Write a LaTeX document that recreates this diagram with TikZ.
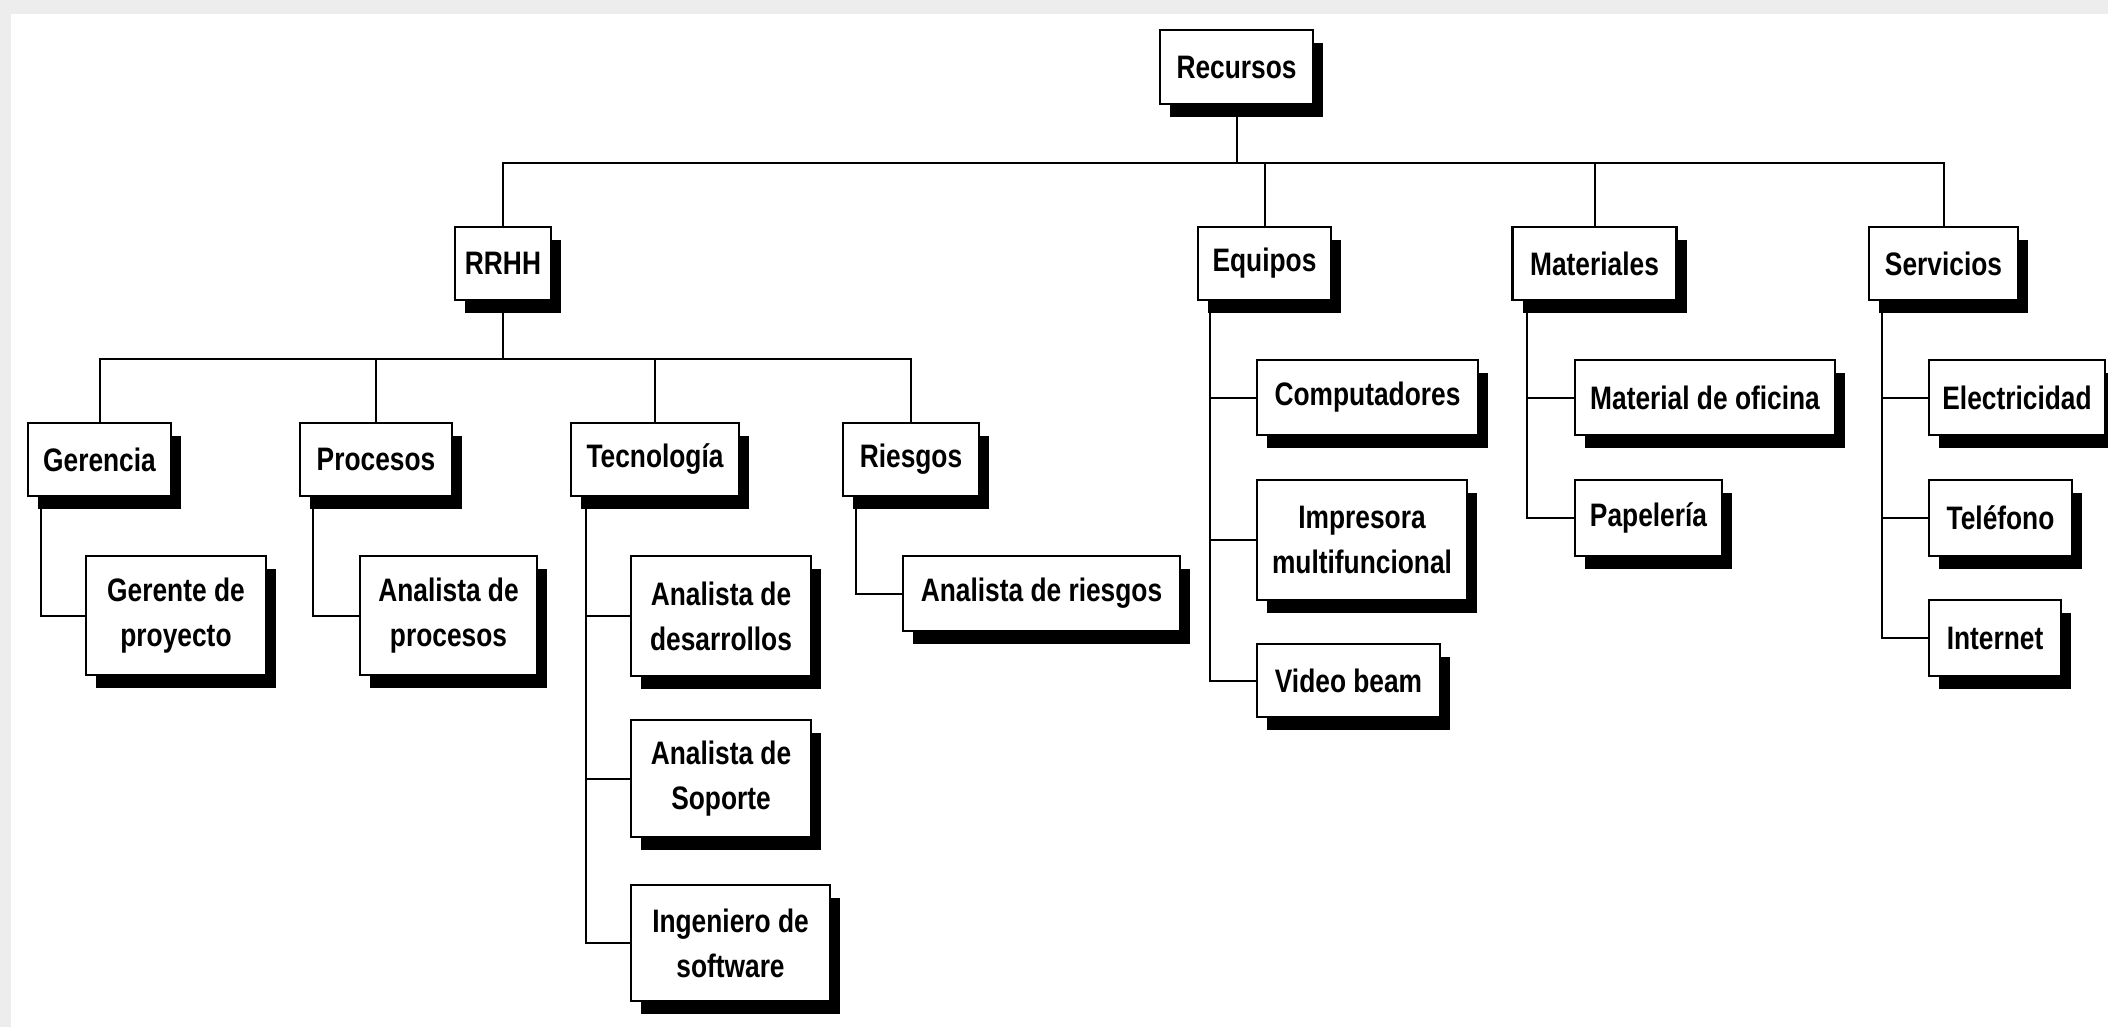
\documentclass[tikz,border=0pt]{standalone}
\usepackage{fontspec}
\setmainfont{Liberation Sans}[FakeStretch=0.81]
\usetikzlibrary{shadows,backgrounds}
\begin{document}
\begin{tikzpicture}[x=1pt,y=-1pt,
  box/.style={draw=black, line width=2.2pt, fill=white, inner sep=0pt, align=center,
    font=\fontsize{32.5}{45}\selectfont\bfseries,
    drop shadow={shadow xshift=10pt, shadow yshift=-13pt, opacity=1, fill=black}},
  link/.style={line width=2pt, black}]
\useasboundingbox (0,0) rectangle (2108,1027);
% page frame
\begin{scope}[on background layer]
  \fill[black!7] (0,0) rectangle (2108,1027);
  \fill[white] (11,14) rectangle (2108,1027);
\end{scope}

% root and first level
\node[box, minimum width=153pt, minimum height=74pt] (rec) at (1236.5,67) {Recursos};
\node[box, minimum width=96pt,  minimum height=73pt] (rrhh) at (503,263.5) {RRHH};
\node[box, minimum width=133pt, minimum height=73pt] (equ) at (1264.5,263.5) {Equipos};
\node[box, minimum width=164pt, minimum height=73pt] (mat) at (1594.5,263.5) {Materiales};
\node[box, minimum width=149pt, minimum height=73pt] (serv) at (1943.5,263.5) {Servicios};

% human resources areas
\node[box, minimum width=143pt, minimum height=73pt] (ger) at (99.5,459.5) {Gerencia};
\node[box, minimum width=152pt, minimum height=73pt] (proc) at (376,459.5) {Procesos};
\node[box, minimum width=168pt, minimum height=73pt] (tec) at (655,459.5) {Tecnología};
\node[box, minimum width=136pt, minimum height=73pt] (ries) at (911,459.5) {Riesgos};

% roles
\node[box, minimum width=180pt, minimum height=119pt] (gerp) at (176,615.5) {Gerente de\\proyecto};
\node[box, minimum width=177pt, minimum height=119pt] (anproc) at (448.5,615.5) {Analista de\\procesos};
\node[box, minimum width=180pt, minimum height=120pt] (andes) at (721,616) {Analista de\\desarrollos};
\node[box, minimum width=180pt, minimum height=117pt] (ansop) at (721,778.5) {Analista de\\Soporte};
\node[box, minimum width=199pt, minimum height=116pt] (ingsw) at (730.5,943) {Ingeniero de\\software};
\node[box, minimum width=277pt, minimum height=75pt] (anries) at (1041.5,593.5) {Analista de riesgos};

% equipment
\node[box, minimum width=221pt, minimum height=75pt] (comp) at (1367.5,397.5) {Computadores};
\node[box, minimum width=210pt, minimum height=120pt] (impr) at (1362,540) {Impresora\\multifuncional};
\node[box, minimum width=183pt, minimum height=73pt] (video) at (1348.5,680.5) {Video beam};

% materials
\node[box, minimum width=260pt, minimum height=75pt] (matof) at (1705,397.5) {Material de oficina};
\node[box, minimum width=147pt, minimum height=76pt] (papel) at (1648.5,518) {Papelería};

% services
\node[box, minimum width=176pt, minimum height=75pt] (elec) at (2017,397.5) {Electricidad};
\node[box, minimum width=143pt, minimum height=76pt] (tel) at (2000.5,518) {Teléfono};
\node[box, minimum width=132pt, minimum height=76pt] (inet) at (1995,638) {Internet};

% connectors
\coordinate (bus1) at (0,163);
\coordinate (bus2) at (0,359);
\coordinate (gerT) at ([xshift=14pt]ger.south west);
\coordinate (procT) at ([xshift=14pt]proc.south west);
\coordinate (tecT) at ([xshift=16pt]tec.south west);
\coordinate (riesT) at ([xshift=14pt]ries.south west);
\coordinate (equT) at ([xshift=13pt]equ.south west);
\coordinate (matT) at ([xshift=16pt]mat.south west);
\coordinate (servT) at ([xshift=14pt]serv.south west);
\begin{scope}[on background layer]
  \draw[link] (rec.south) -- (rec.south |- bus1);
  \draw[link] (rrhh.north) -- (rrhh.north |- bus1) -- (serv.north |- bus1) -- (serv.north);
  \draw[link] (equ.north |- bus1) -- (equ.north);
  \draw[link] (mat.north |- bus1) -- (mat.north);

  \draw[link] (rrhh.south) -- (rrhh.south |- bus2);
  \draw[link] (ger.north) -- (ger.north |- bus2) -- (ries.north |- bus2) -- (ries.north);
  \draw[link] (proc.north |- bus2) -- (proc.north);
  \draw[link] (tec.north |- bus2) -- (tec.north);

  \draw[link] (gerT) |- (gerp.west);
  \draw[link] (procT) |- (anproc.west);
  \draw[link] (tecT) |- (ingsw.west);
  \draw[link] (tecT |- andes.west) -- (andes.west);
  \draw[link] (tecT |- ansop.west) -- (ansop.west);
  \draw[link] (riesT) |- (anries.west);

  \draw[link] (equT) |- (video.west);
  \draw[link] (equT |- comp.west) -- (comp.west);
  \draw[link] (equT |- impr.west) -- (impr.west);

  \draw[link] (matT) |- (papel.west);
  \draw[link] (matT |- matof.west) -- (matof.west);

  \draw[link] (servT) |- (inet.west);
  \draw[link] (servT |- elec.west) -- (elec.west);
  \draw[link] (servT |- tel.west) -- (tel.west);
\end{scope}
\end{tikzpicture}
\end{document}
